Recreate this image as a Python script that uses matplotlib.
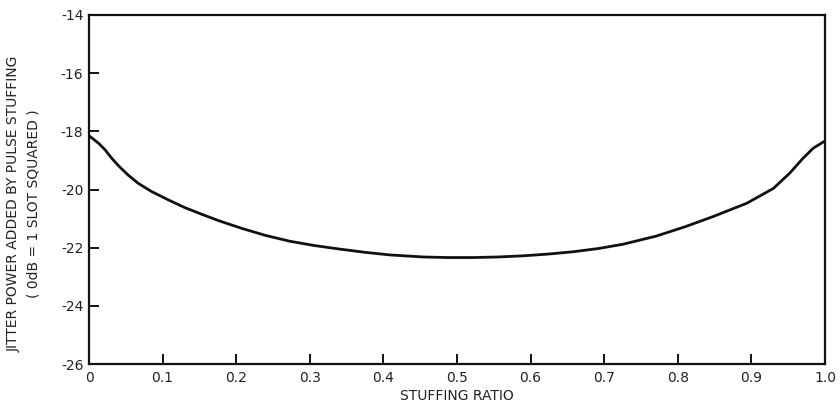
import numpy as np
import matplotlib.pyplot as plt

# curve
RATIO = [0.0, 0.013, 0.022, 0.031, 0.040, 0.053, 0.067, 0.085, 0.108, 0.130, 0.153, 0.176,
         0.208, 0.240, 0.273, 0.307, 0.341, 0.375, 0.409, 0.454, 0.488, 0.522, 0.556, 0.590,
         0.624, 0.658, 0.692, 0.726, 0.771, 0.810, 0.848, 0.894, 0.930, 0.952, 0.970, 0.984, 1.0]
POWER_DB = [-18.15, -18.41, -18.64, -18.93, -19.18, -19.50, -19.79, -20.07, -20.36, -20.62,
            -20.85, -21.07, -21.34, -21.58, -21.78, -21.93, -22.05, -22.16, -22.25, -22.32,
            -22.34, -22.34, -22.32, -22.28, -22.22, -22.14, -22.03, -21.88, -21.60, -21.28,
            -20.93, -20.47, -19.96, -19.44, -18.93, -18.58, -18.33]

X_TICKS = [0, 0.1, 0.2, 0.3, 0.4, 0.5, 0.6, 0.7, 0.8, 0.9, 1.0]
X_LABELS = ['0', '0.1', '0.2', '0.3', '0.4', '0.5', '0.6', '0.7', '0.8', '0.9', '1.0']
Y_TICKS = [-26, -24, -22, -20, -18, -16, -14]

plt.rcParams.update({'font.family': 'DejaVu Sans', 'font.size': 10})
fig = plt.figure(figsize=(8.4, 4.07), dpi=100)
ax = fig.add_axes([89/840, 1-364/407, (825-89)/840, (364-15)/407])

ax.plot(RATIO, POWER_DB, color='#111111', lw=2.0, solid_capstyle='round', solid_joinstyle='round')

ax.set_xlim(0, 1.0)
ax.set_ylim(-26, -14)
ax.set_xticks(X_TICKS)
ax.set_xticklabels(X_LABELS)
ax.set_yticks(Y_TICKS)
ax.set_yticklabels([str(v) for v in Y_TICKS])
ax.tick_params(direction='in', length=7, width=1.4, color='#111111', labelcolor='#222222', labelsize=10)
ax.tick_params(axis='x', pad=5)
ax.tick_params(axis='y', pad=4)
for s in ax.spines.values():
    s.set_linewidth(1.6)
    s.set_color('#111111')

ax.set_xlabel('STUFFING RATIO', fontsize=10, color='#222222', labelpad=3)
fig.text(14/840, 0.5, 'JITTER POWER ADDED BY PULSE STUFFING', rotation=90, ha='center', va='center',
         fontsize=10, color='#222222')
fig.text(34/840, 0.5, '( 0dB = 1 SLOT SQUARED )', rotation=90, ha='center', va='center',
         fontsize=10, color='#222222')

fig.savefig('out.png', dpi=100)
